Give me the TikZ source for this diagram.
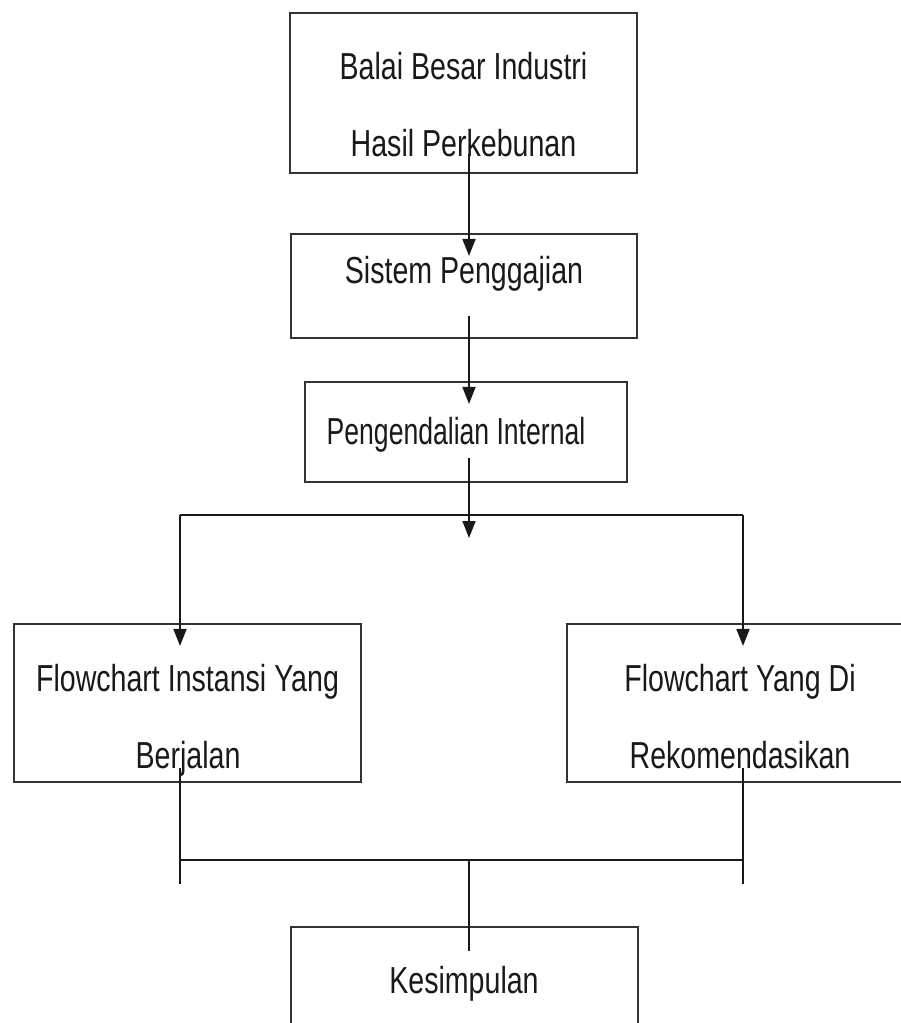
\documentclass[tikz,border=0pt]{standalone}
\usepackage{fontspec}
\setmainfont{Liberation Sans}[FakeStretch=0.76]
\usetikzlibrary{arrows.meta}
\tikzset{
  box/.style={draw=black!80,line width=1.2pt,rectangle},
  lbl/.style={text=black!90,font=\fontsize{21.4}{26}\selectfont,inner sep=0pt,anchor=base},
  ln/.style={draw=black!90,line width=1pt},
  arr/.style={ln,-{Triangle[length=0.34cm,width=0.26cm]}}
}
\begin{document}
\begin{tikzpicture}[x=0.02cm,y=-0.02cm]
    \useasboundingbox (0,0) rectangle (901,1023);
    \clip (0,0) rectangle (901,1023);
    % boxes
    \node[box,minimum width=6.94cm,minimum height=3.2cm] (bbihp) at (463.5,93) {};
    \node[box,minimum width=6.92cm,minimum height=2.08cm] (gaji) at (464,286) {};
    \node[box,minimum width=6.44cm,minimum height=2cm] (spi) at (466,432) {};
    \node[box,minimum width=6.94cm,minimum height=3.16cm] (fcjalan) at (187.5,703) {};
    \node[box,minimum width=6.96cm,minimum height=3.16cm] (fcrekom) at (741,703) {};
    \node[box,minimum width=6.94cm,minimum height=2.2cm] (simpul) at (464.5,982) {};
    % texts
    \node[lbl] (bbihp-a) at (463.5,80) {Balai Besar Industri};
    \node[lbl] (bbihp-b) at (463.5,157) {Hasil Perkebunan};
    \node[lbl] (gaji-a) at (464,284) {Sistem Penggajian};
    \node[lbl,xscale=0.93] (spi-a) at (456,444) {Pengendalian Internal};
    \node[lbl] (fcjalan-a) at (187.5,691) {Flowchart Instansi Yang};
    \node[lbl] (fcjalan-b) at (188,768) {Berjalan};
    \node[lbl] (fcrekom-a) at (740,691) {Flowchart Yang Di};
    \node[lbl] (fcrekom-b) at (740,768) {Rekomendasikan};
    \node[lbl] (simpul-a) at (464,993) {Kesimpulan};
    % connectors
    \coordinate (bagi) at (469,515);
    \coordinate (kiri) at (180,515);
    \coordinate (kanan) at (743,515);
    \coordinate (gabung) at (469,860);
    \draw[arr] ([shift={(5.5,-20)}]bbihp.south) -- ([shift={(5,23)}]gaji.north);
    \draw[arr] ([shift={(5,-23)}]gaji.south) -- ([shift={(3,23)}]spi.north);
    \draw[arr] ([shift={(3,-25)}]spi.south) -- ([shift={(0,23)}]bagi);
    \draw[ln] (kiri) -- (kanan);
    \draw[arr] (kiri) -- ([shift={(-7.5,23)}]fcjalan.north);
    \draw[arr] (kanan) -- ([shift={(2,23)}]fcrekom.north);
    \draw[ln] ([shift={(-7.5,-15)}]fcjalan.south) -- ++(0,116);
    \draw[ln] ([shift={(2,-15)}]fcrekom.south) -- ++(0,116);
    \draw[ln] (kiri |- gabung) -- (kanan |- gabung);
    \draw[ln] (gabung) -- ([shift={(4.5,25)}]simpul.north);
\end{tikzpicture}
\end{document}
